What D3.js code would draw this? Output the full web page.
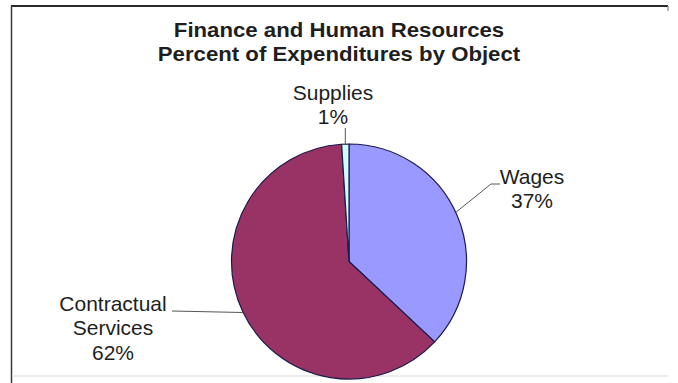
<!DOCTYPE html>
<html>
<head>
<meta charset="utf-8">
<script src="https://cdn.jsdelivr.net/npm/d3@7/dist/d3.min.js"></script>
<style>
  html, body { margin: 0; padding: 0; background: #fff; }
  svg { display: block; }
  text { font-family: "Liberation Sans", Arial, sans-serif; fill: #1e1e1e; }
</style>
</head>
<body>
<script>
// Expenditure breakdown by object
const categories = ["Wages", "Contractual Services", "Supplies"];
const labelLines = [["Wages"], ["Contractual", "Services"], ["Supplies"]];
const percents = [37, 62, 1];
const colors = ["#9999ff", "#993366", "#ccffff"];
const titleLines = ["Finance and Human Resources", "Percent of Expenditures by Object"];

const W = 678, H = 383;
const svg = d3.select("body").append("svg").attr("width", W).attr("height", H);

// chart frame
svg.append("line").attr("x1", 11).attr("x2", 668).attr("y1", 6).attr("y2", 6)
  .attr("stroke", "#2a2a2a").attr("stroke-width", 2);
svg.append("line").attr("x1", 11.5).attr("x2", 11.5).attr("y1", 6).attr("y2", H)
  .attr("stroke", "#3a3a3a").attr("stroke-width", 1.5);
svg.append("line").attr("x1", 668).attr("x2", 668).attr("y1", 6).attr("y2", 11)
  .attr("stroke", "#999").attr("stroke-width", 1.5);
svg.append("line").attr("x1", 12).attr("x2", 668).attr("y1", 376).attr("y2", 376)
  .attr("stroke", "#e4e4e4").attr("stroke-width", 1.5);

// title
const title = svg.append("g").attr("transform", "translate(339,0) scale(1.11,1)");
title.selectAll("text").data(titleLines).join("text")
  .attr("x", 0).attr("y", (d, i) => 37 + i * 24)
  .attr("text-anchor", "middle")
  .attr("font-size", 20).attr("font-weight", "bold")
  .text(d => d);

// pie, starting at 12 o'clock and running clockwise
const cx = 349, cy = 261.5, r = 117.5;
const pie = d3.pie().sort(null).value(d => d)(percents);
const arc = d3.arc().innerRadius(0).outerRadius(r);
const g = svg.append("g").attr("transform", `translate(${cx},${cy})`);
g.selectAll("path").data(pie).join("path")
  .attr("d", arc)
  .attr("fill", (d, i) => colors[i])
  .attr("stroke", "#1c1c4c").attr("stroke-width", 1.2)
  .attr("stroke-linejoin", "round");

// leader lines from the rim out to each label
const angle = d => (d.startAngle + d.endAngle) / 2;
const edge = (a, rr) => [cx + rr * Math.sin(a), cy - rr * Math.cos(a)];
const lineGen = d3.line();
const leader = pts => svg.append("path").attr("d", lineGen(pts))
  .attr("fill", "none").attr("stroke", "#555").attr("stroke-width", 1);

// Wages: diagonal then a short horizontal run
leader([edge(1.14, r), [491, 184], [500, 184]]);
// Contractual Services: nearly horizontal to the left
{
  const yy = 312.5;
  const x0 = cx - Math.sqrt(r * r - (yy - cy) * (yy - cy));
  leader([[172, 311], [x0, yy]]);
}
// Supplies: straight up from the slice
{
  const p0 = edge(angle(pie[2]), r);
  leader([[p0[0], 128], p0]);
}

// data labels
const labelPos = [[532, 184], [113, 311], [333, 99.5]];
labelPos.forEach((pos, i) => {
  const lines = labelLines[i].concat([percents[i] + "%"]);
  const lg = svg.append("g").attr("transform", `translate(${pos[0]},${pos[1]}) scale(1.05,1)`);
  lg.selectAll("text").data(lines).join("text")
    .attr("x", 0).attr("y", (d, j) => j * 24.5)
    .attr("text-anchor", "middle")
    .attr("font-size", 20)
    .text(d => d);
});
</script>
</body>
</html>
